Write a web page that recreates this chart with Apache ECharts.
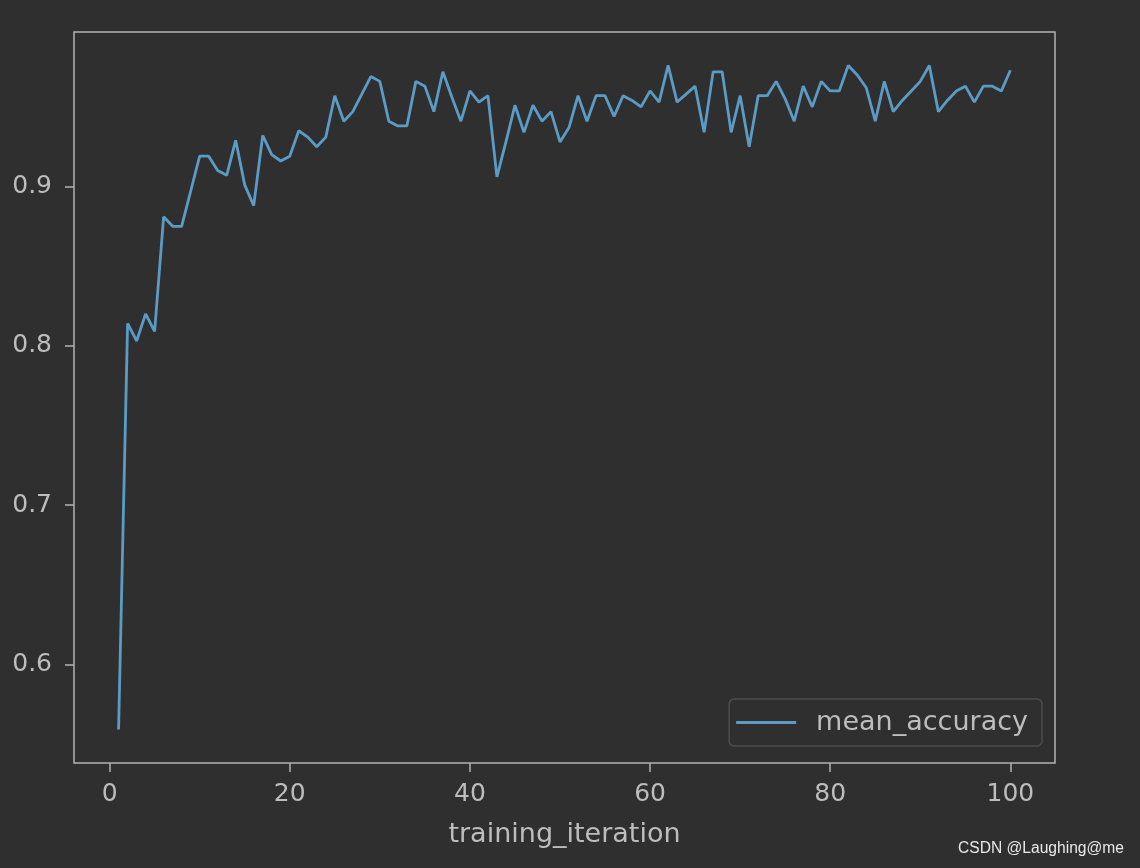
<!DOCTYPE html>
<html>
<head>
<meta charset="utf-8">
<script src="https://cdn.jsdelivr.net/npm/echarts@6/dist/echarts.min.js"></script>
<style>
html,body{margin:0;padding:0;background:#2f2f2f;}
#chart{width:1140px;height:868px;}
</style>
</head>
<body>
<div id="chart"></div>
<script>
// Data
const iterations = Array.from({length: 100}, (_, k) => k + 1);
const meanAccuracy = [
  0.559, 0.814, 0.803, 0.820, 0.809, 0.881, 0.875, 0.875, 0.897, 0.919,
  0.919, 0.910, 0.907, 0.929, 0.901, 0.888, 0.932, 0.920, 0.916, 0.919,
  0.935, 0.931, 0.925, 0.931, 0.957, 0.941, 0.947, 0.958, 0.969, 0.966,
  0.941, 0.938, 0.938, 0.966, 0.963, 0.947, 0.972, 0.956, 0.941, 0.960,
  0.953, 0.957, 0.906, 0.928, 0.951, 0.934, 0.951, 0.941, 0.947, 0.928,
  0.937, 0.957, 0.941, 0.957, 0.957, 0.944, 0.957, 0.954, 0.950, 0.960,
  0.953, 0.976, 0.953, 0.958, 0.963, 0.934, 0.972, 0.972, 0.934, 0.957,
  0.925, 0.957, 0.957, 0.966, 0.955, 0.941, 0.963, 0.950, 0.966, 0.960,
  0.960, 0.976, 0.970, 0.962, 0.941, 0.966, 0.947, 0.954, 0.960, 0.966,
  0.976, 0.947, 0.954, 0.960, 0.963, 0.953, 0.963, 0.963, 0.960, 0.973
];
const xTicks = [0, 20, 40, 60, 80, 100];
const yTicks = [0.6, 0.7, 0.8, 0.9];
const seriesName = 'mean_accuracy';
const xName = 'training_iteration';
const watermark = 'CSDN @Laughing@me';

const FONT = 'DejaVu Sans';
const TXT = '#bdbdbd';
const SPINE = '#b4b4b4';
const LINE = '#5b9cc6';

const chart = echarts.init(document.getElementById('chart'), null, {renderer: 'canvas'});
chart.setOption({
  backgroundColor: '#2f2f2f',
  animation: false,
  grid: {
    left: 74, right: 85, top: 32, bottom: 105,
    show: true, borderColor: SPINE, borderWidth: 1.5, backgroundColor: 'transparent'
  },
  xAxis: {
    type: 'value', min: -3.95, max: 104.95,
    name: xName, nameLocation: 'middle', nameGap: 58,
    nameTextStyle: {color: TXT, fontFamily: FONT, fontSize: 27},
    axisLine: {show: false, onZero: false},
    splitLine: {show: false},
    axisTick: {show: true, customValues: xTicks, length: 9, lineStyle: {color: SPINE, width: 1.5}},
    axisLabel: {customValues: xTicks, color: TXT, fontFamily: FONT, fontSize: 25, margin: 19}
  },
  yAxis: {
    type: 'value', min: 0.538, max: 0.997,
    axisLine: {show: false, onZero: false},
    splitLine: {show: false},
    axisTick: {show: true, customValues: yTicks, length: 9, lineStyle: {color: SPINE, width: 1.5}},
    axisLabel: {customValues: yTicks, color: TXT, fontFamily: FONT, fontSize: 25, margin: 22,
      formatter: v => v.toFixed(1)}
  },
  legend: {
    right: 98, top: 699,
    padding: [10, 14, 10, 7],
    backgroundColor: '#2f2f2f',
    borderColor: '#4e4e4e', borderWidth: 1.5, borderRadius: 5,
    icon: 'rect', itemWidth: 60, itemHeight: 3,
    textStyle: {color: TXT, fontFamily: FONT, fontSize: 27, padding: [0, 0, 0, 15]},
    data: [seriesName]
  },
  series: [{
    name: seriesName,
    type: 'line',
    data: iterations.map((x, k) => [x, meanAccuracy[k]]),
    showSymbol: false,
    lineStyle: {color: LINE, width: 2.8},
    itemStyle: {color: LINE}
  }],
  graphic: [{
    type: 'text', right: 16, top: 841,
    style: {text: watermark, fill: '#e8e8e8', font: '15.6px "Liberation Sans", sans-serif'}
  }]
});
</script>
</body>
</html>
